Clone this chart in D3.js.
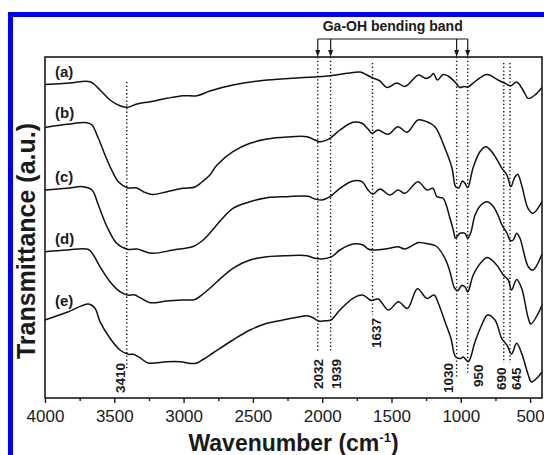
<!DOCTYPE html>
<html>
<head>
<meta charset="utf-8">
<script src="https://cdn.jsdelivr.net/npm/d3@7"></script>
<style>
  body { margin: 0; background: #fff; }
  .text { font-family: "Liberation Sans", Arial, sans-serif; fill: #1a1a1a; }
</style>
</head>
<body>
<div id="chart"></div>
<script>
const SCREEN_WIDTH = 544;
const SCREEN_HEIGHT = 455;

// IR spectra, [wavenumber, transmittance a.u. (offset traces)]
const traceA = [[4000,313.5],[3820,315],[3675,316.3],[3603,308],[3531,298],[3459,292.3],[3406,290.7],[3336,294],[3242,296.3],[3120,299.7],[3004,302.3],[2903,302.3],[2810,307],[2644,313],[2398,318],[2160,320.3],[2030,321.3],[1944,322.3],[1821,324.7],[1727,326],[1684,323.5],[1634,320],[1583,317],[1533,310.5],[1460,315],[1403,311.5],[1305,323],[1251,319.5],[1215,322],[1197,324.5],[1168,318],[1128,323.5],[1092,322],[1042,316],[1006,310.5],[977,311.5],[948,311],[897,316.5],[811,323.5],[732,318],[681,314.7],[638,312.3],[597,316],[551,308],[512,299.5],[465,303],[414,310.5]];
const traceB = [[4000,270.5],[3841,273.7],[3697,275.3],[3661,273],[3615,259.7],[3567,243],[3519,228],[3471,216.3],[3406,210.3],[3338,210],[3291,206.3],[3228,203.5],[3120,206.3],[3004,209.7],[2918,211],[2867,216],[2810,223],[2759,233],[2644,246.3],[2521,254.7],[2398,259],[2254,261],[2110,261.3],[2052,258],[2016,256.3],[1944,259.7],[1872,268],[1778,275.7],[1713,274.7],[1669,269],[1641,264.7],[1597,268],[1525,263.7],[1453,271.3],[1388,265.7],[1309,278],[1244,276.3],[1186,271.3],[1114,249.7],[1063,229.7],[1037,211.3],[1013,210.3],[989,217],[970,214.7],[950,210.3],[912,229.7],[862,246.3],[818,251.3],[768,244.7],[703,229.7],[667,223],[638,211.3],[614,219.7],[590,223.7],[561,213],[515,189.7],[479,184.7],[414,196.3]];
const traceC = [[4000,208],[3841,209.7],[3726,211.3],[3661,208],[3615,193],[3555,172],[3483,154.7],[3406,148.7],[3336,149],[3228,144.7],[3076,148],[2932,151.5],[2867,157],[2810,165],[2730,178],[2644,189.7],[2521,196.3],[2398,200.3],[2254,201.3],[2102,201.7],[2052,199],[2001,198],[1944,201.3],[1872,209.7],[1778,217],[1713,216.3],[1669,208],[1634,203.7],[1583,209],[1511,203],[1453,208],[1403,204.7],[1309,216.3],[1244,208],[1201,209.7],[1172,201.3],[1128,199.7],[1078,179.7],[1054,168],[1037,159.7],[1006,164.7],[970,164.7],[950,159.7],[926,166.3],[897,183],[854,193],[811,196.3],[768,192],[732,183],[703,173],[667,165],[642,157.5],[622,158],[597,164.7],[573,159.7],[513,131.3],[479,128],[414,144]];
const traceD = [[4000,146.3],[3841,148],[3690,148.7],[3651,143],[3603,131.3],[3531,116.3],[3459,106.3],[3406,103],[3351,103],[3315,100.3],[3242,95.3],[3120,97],[3004,98],[2918,98.5],[2860,104],[2810,109.7],[2759,116.3],[2644,129.7],[2521,138],[2398,141.3],[2254,142.3],[2110,142.3],[2052,139.7],[2004,139],[1931,141.3],[1872,148],[1778,154],[1706,153],[1669,149],[1641,148],[1547,149],[1497,150.3],[1453,151.3],[1403,149],[1305,155.5],[1258,154.7],[1179,152],[1114,139.7],[1078,126.3],[1045,110],[1022,107.5],[993,112.5],[970,111.3],[950,106],[910,123],[849,136.3],[807,140.5],[741,133],[693,123],[657,118],[634,108],[597,118.5],[561,109.7],[513,79.7],[494,74],[441,84.7],[414,93]];
const traceE = [[4000,78],[3841,85.7],[3686,94],[3639,89.7],[3603,76.3],[3531,59.7],[3459,48],[3399,43.7],[3363,43.7],[3315,40.3],[3257,35],[3120,36.3],[3026,36.3],[2918,34.5],[2860,38.5],[2788,45],[2644,58],[2521,68],[2398,74.7],[2283,78],[2160,81.3],[2110,82.3],[2066,80.3],[2028,77],[1980,77.3],[1937,78],[1872,88],[1778,99.7],[1709,103],[1655,98],[1641,97.5],[1595,99],[1522,88],[1450,96.3],[1385,89.5],[1313,109.3],[1244,99.5],[1193,103],[1162,94.7],[1114,76.3],[1071,59.7],[1038,41.3],[1002,39.5],[982,41],[946,36.3],[897,56.3],[849,73],[807,83],[753,78],[705,59.7],[667,53],[634,44],[597,54.7],[561,44.7],[513,23],[490,16],[441,21.3],[414,26]];

const traces = [traceA, traceB, traceC, traceD, traceE];
const traceLabels = ["(a)", "(b)", "(c)", "(d)", "(e)"];

const majorTicks = [4000, 3500, 3000, 2500, 2000, 1500, 1000, 500];
const minorTicks = [3750, 3250, 2750, 2250, 1750, 1250, 750];

const peakMarks = [3410, 2032, 1939, 1637, 1030, 950, 690, 645];
const gaohBands = [2032, 1939, 1030, 950];

function drawChart(){
    var svg = d3.select("#chart").append("svg")
                .attr("width", SCREEN_WIDTH)
                .attr("height", SCREEN_HEIGHT);

    const left = 45, right = 542, top = 57, bottom = 398;

    var x = d3.scaleLinear().domain([4000, 414]).range([left, right]);
    var y = d3.scaleLinear().domain([0, 341]).range([bottom, top]);

    //blue frame of the figure
    svg.append("rect")
        .attr("x", 8).attr("y", 12)
        .attr("width", 5).attr("height", SCREEN_HEIGHT - 12)
        .attr("fill", "#0000f5");
    svg.append("rect")
        .attr("x", 8).attr("y", 12)
        .attr("width", SCREEN_WIDTH - 8).attr("height", 5)
        .attr("fill", "#0000f5");

    //peak guide lines (top / bottom in px, label baseline x and bottom y)
    const peakLayout = {
        3410: {y0: 82, y1: 370, lx: 125, ly: 393},
        2032: {y0: 57, y1: 353, lx: 322.5, ly: 389},
        1939: {y0: 57, y1: 353, lx: 340.5, ly: 389},
        1637: {y0: 63, y1: 315, lx: 380.5, ly: 348},
        1030: {y0: 57, y1: 378, lx: 452.5, ly: 393},
        950:  {y0: 57, y1: 373, lx: 483, ly: 387},
        690:  {y0: 63, y1: 363, lx: 505.5, ly: 390},
        645:  {y0: 63, y1: 363, lx: 520.5, ly: 390}
    };

    var guides = svg.append("g").attr("id", "guides");
    peakMarks.forEach(function(p){
        var L = peakLayout[p];
        guides.append("line")
            .attr("x1", x(p)).attr("x2", x(p))
            .attr("y1", L.y0).attr("y2", L.y1)
            .attr("stroke", "#111")
            .attr("stroke-width", 1.4)
            .attr("stroke-dasharray", "1.3,2.4");
        guides.append("text")
            .attr("class", "text")
            .attr("transform", "translate(" + L.lx + "," + L.ly + ") rotate(-90)")
            .style("font-size", "13.5px")
            .style("font-weight", "bold")
            .text(p);
    });

    //spectra
    var line = d3.line()
        .x(d => x(d[0]))
        .y(d => y(d[1]))
        .curve(d3.curveCatmullRom.alpha(0.5));

    traces.forEach(function(t, i){
        svg.append("path")
            .datum(t)
            .attr("d", line)
            .attr("fill", "none")
            .attr("stroke", "#111")
            .attr("stroke-width", 1.5);

        var near = t.find(d => d[0] <= 3850);
        svg.append("text")
            .attr("class", "text")
            .attr("x", 55)
            .attr("y", y(near[1]) - 6)
            .style("font-size", "15px")
            .style("font-weight", "bold")
            .text(traceLabels[i]);
    });

    //plot frame
    svg.append("rect")
        .attr("x", left).attr("y", top)
        .attr("width", right - left).attr("height", bottom - top)
        .attr("fill", "none")
        .attr("stroke", "#1a1a1a")
        .attr("stroke-width", 1.6);

    //x axis
    var xAxis = svg.append("g")
        .attr("transform", "translate(0," + bottom + ")")
        .call(d3.axisBottom(x).tickValues(majorTicks).tickSize(5).tickSizeOuter(0).tickFormat(d3.format("d")));
    xAxis.select(".domain").remove();
    xAxis.selectAll("line").attr("stroke", "#1a1a1a").attr("stroke-width", 1.4);
    xAxis.selectAll("text")
        .attr("class", "text")
        .attr("y", 12)
        .style("font-size", "17px")
        .style("font-family", "'Liberation Sans', Arial, sans-serif");

    svg.append("g")
        .attr("transform", "translate(0," + bottom + ")")
        .call(d3.axisBottom(x).tickValues(minorTicks).tickSize(3).tickFormat(""))
        .call(g => g.select(".domain").remove())
        .selectAll("line").attr("stroke", "#1a1a1a").attr("stroke-width", 1.4);

    //axis titles
    var xTitle = svg.append("text")
        .attr("class", "text")
        .attr("x", (left + right) / 2)
        .attr("y", 451)
        .style("text-anchor", "middle")
        .style("font-size", "23px")
        .style("font-weight", "bold");
    xTitle.append("tspan").text("Wavenumber  (cm");
    xTitle.append("tspan").attr("dy", -9).style("font-size", "13px").text("-1");
    xTitle.append("tspan").attr("dy", 9).text(")");

    svg.append("text")
        .attr("class", "text")
        .attr("transform", "translate(35," + 241 + ") rotate(-90)")
        .style("text-anchor", "middle")
        .style("font-size", "25px")
        .style("font-weight", "bold")
        .text("Transmittance (a.u.)");

    //Ga-OH bracket with arrows
    var br = svg.append("g").attr("id", "gaohBracket");
    br.append("line")
        .attr("x1", x(d3.max(gaohBands))).attr("x2", x(d3.min(gaohBands)))
        .attr("y1", 39).attr("y2", 39)
        .attr("stroke", "#1a1a1a").attr("stroke-width", 1.2);
    gaohBands.forEach(function(b){
        br.append("line")
            .attr("x1", x(b)).attr("x2", x(b))
            .attr("y1", 39).attr("y2", 51)
            .attr("stroke", "#1a1a1a").attr("stroke-width", 1.2);
        br.append("path")
            .attr("d", "M" + (x(b) - 2.5) + ",50L" + (x(b) + 2.5) + ",50L" + x(b) + ",57Z")
            .attr("fill", "#1a1a1a");
    });
    br.append("text")
        .attr("class", "text")
        .attr("x", (x(d3.max(gaohBands)) + x(d3.min(gaohBands))) / 2)
        .attr("y", 31)
        .style("text-anchor", "middle")
        .style("font-size", "14px")
        .style("font-weight", "bold")
        .text("Ga-OH bending band");
}

drawChart();
</script>
</body>
</html>
